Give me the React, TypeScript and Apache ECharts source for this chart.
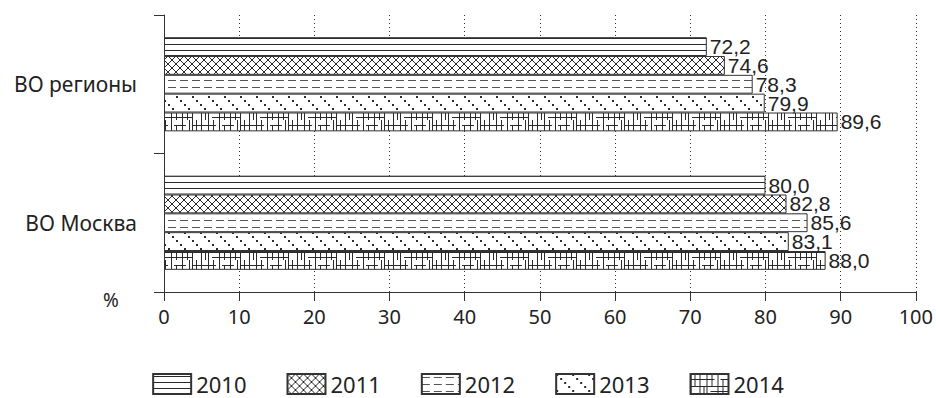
import React, { useEffect, useRef } from "react";
import * as echarts from "echarts";

const categories = ["ВО регионы", "ВО Москва"];
const years = ["2010", "2011", "2012", "2013", "2014"];
const s2010 = [72.2, 80.0];
const s2011 = [74.6, 82.8];
const s2012 = [78.3, 85.6];
const s2013 = [79.9, 83.1];
const s2014 = [89.6, 88.0];
const seriesValues = [s2010, s2011, s2012, s2013, s2014];
const xTicks = [0, 10, 20, 30, 40, 50, 60, 70, 80, 90, 100];

function mk(w: number, h: number, draw: (c: CanvasRenderingContext2D) => void) {
  const cv = document.createElement("canvas");
  cv.width = w;
  cv.height = h;
  const c = cv.getContext("2d")!;
  c.fillStyle = "#ffffff";
  c.fillRect(0, 0, w, h);
  c.fillStyle = "#2a2a2a";
  c.strokeStyle = "#2a2a2a";
  draw(c);
  return cv;
}

function patterns() {
  const p2010 = mk(4, 6, (c) => {
    c.fillRect(0, 2, 4, 1);
  });
  const p2011 = mk(8, 8, (c) => {
    c.lineWidth = 1;
    c.beginPath();
    c.moveTo(0, 0);
    c.lineTo(8, 8);
    c.moveTo(8, 0);
    c.lineTo(0, 8);
    c.stroke();
  });
  const p2012 = mk(12, 7, (c) => {
    c.fillStyle = "#555";
    c.fillRect(0, 3, 8, 1);
  });
  const p2013 = mk(16, 16, (c) => {
    for (let k = 0; k < 4; k++) c.fillRect(4 * k, 4 * k, 2, 2);
  });
  const p2014 = mk(48, 20, (c) => {
    [0, 9, 16, 27, 38].forEach((x) => c.fillRect(x, 0, 1, 20));
    c.fillRect(0, 5, 24, 1);
    c.fillRect(0, 12, 48, 1);
    c.fillRect(20, 17, 28, 1);
    c.fillRect(4, 0, 1, 12);
    c.fillRect(13, 12, 1, 8);
    c.fillRect(21, 0, 1, 12);
    c.fillRect(32, 5, 1, 15);
    c.fillRect(30, 5, 12, 1);
    c.fillRect(43, 12, 1, 8);
    c.fillRect(45, 0, 1, 12);
  });
  return [p2010, p2011, p2012, p2013, p2014];
}

export default function App() {
  const ref = useRef<HTMLDivElement>(null);
  useEffect(() => {
    if (!ref.current) return;
    const chart = echarts.init(ref.current, null, { renderer: "svg" });
    const pats = patterns();
    const font = "'Noto Sans', sans-serif";
    chart.setOption({
      animation: false,
      backgroundColor: "#ffffff",
      grid: { left: 164, right: 17, top: 15, bottom: 106 },
      xAxis: {
        type: "value",
        min: 0,
        max: 100,
        interval: 10,
        axisLine: { show: true, lineStyle: { color: "#333", width: 1 } },
        axisTick: { show: true, length: 9, lineStyle: { color: "#333" } },
        axisLabel: {
          color: "#222",
          fontSize: 20,
          fontFamily: font,
          margin: 14,
          formatter: (v: number) => (xTicks.includes(v) ? String(v) : ""),
        },
        splitLine: { show: true, lineStyle: { type: [1, 3], color: "#333", width: 1 } },
      },
      yAxis: {
        type: "category",
        data: categories,
        inverse: true,
        axisLine: { show: true, lineStyle: { color: "#333", width: 1 } },
        axisTick: { show: true, length: 10, lineStyle: { color: "#333" } },
        axisLabel: { color: "#222", fontSize: 21, fontFamily: font, margin: 27 },
        splitLine: { show: false },
      },
      legend: {
        left: "center",
        top: 368,
        icon: "rect",
        itemWidth: 38,
        itemHeight: 20,
        itemGap: 40,
        textStyle: { color: "#222", fontSize: 22, fontFamily: font },
        data: years,
      },
      graphic: [
        {
          type: "text",
          left: 103,
          top: 290,
          style: { text: "%", fontSize: 19, fontFamily: font, fill: "#222" },
        },
      ],
      series: years.map((y, i) => ({
        name: y,
        type: "bar",
        data: seriesValues[i],
        barGap: "0%",
        barCategoryGap: "32%",
        itemStyle: {
          color: { image: pats[i], repeat: "repeat" },
          borderColor: "#333",
          borderWidth: 1,
        },
        label: {
          show: true,
          position: "right",
          distance: 3,
          color: "#222",
          fontSize: 21,
          fontFamily: "'Liberation Sans', Arial, sans-serif",
          formatter: (p: any) => Number(p.value).toFixed(1).replace(".", ","),
        },
      })),
    });
    return () => chart.dispose();
  }, []);
  return (
    <div
      ref={ref}
      style={{ position: "fixed", left: 0, top: 0, width: 936, height: 398 }}
    />
  );
}
